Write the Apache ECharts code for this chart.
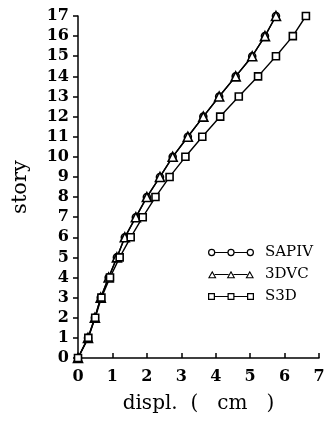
<!DOCTYPE html>
<html><head><meta charset="utf-8">
<script src="https://cdn.jsdelivr.net/npm/echarts@6/dist/echarts.min.js"></script>
<style>html,body{margin:0;padding:0;background:#fff}#c{width:331px;height:421px}</style>
</head><body><div id="c"></div>
<script>
const stories = [0,1,2,3,4,5,6,7,8,9,10,11,12,13,14,15,16,17];
const sapiv = [0,0.29,0.49,0.66,0.89,1.13,1.36,1.68,2.0,2.38,2.75,3.19,3.64,4.10,4.58,5.06,5.43,5.75];
const dvc3 = [0,0.29,0.49,0.66,0.89,1.13,1.36,1.68,2.0,2.38,2.75,3.19,3.64,4.10,4.58,5.06,5.43,5.75];
const s3d = [0,0.30,0.50,0.68,0.93,1.21,1.53,1.88,2.25,2.66,3.12,3.61,4.13,4.67,5.23,5.75,6.24,6.62];
const xTicks = ['0','1','2','3','4','5','6','7'];
const seriesNames = ['SAPIV','3DVC','S3D'];

const font = 'DejaVu Serif';
// legend sample icons: three hollow markers joined by a line (46 x 9 box)
const cxs = [4, 23, 42];
function ring(cx){
  const a=3.6,b=2.4;
  return `M${cx-a} 4.5 A${a} ${a} 0 1 1 ${cx+a} 4.5 A${a} ${a} 0 1 1 ${cx-a} 4.5 Z `+
         `M${cx-b} 4.5 A${b} ${b} 0 1 0 ${cx+b} 4.5 A${b} ${b} 0 1 0 ${cx-b} 4.5 Z `;
}
function tri(cx){
  return `M${cx-4.3} 8.4 L${cx} 0.6 L${cx+4.3} 8.4 Z M${cx-2.5} 7.2 L${cx+2.5} 7.2 L${cx} 3.1 Z `;
}
function sq(cx){
  return `M${cx-3.4} 1.1 L${cx+3.4} 1.1 L${cx+3.4} 7.9 L${cx-3.4} 7.9 Z M${cx-2.2} 2.3 L${cx-2.2} 6.7 L${cx+2.2} 6.7 L${cx+2.2} 2.3 Z `;
}
function icon(fn, half){
  let p='';
  cxs.forEach(c=>p+=fn(c));
  for(let i=0;i<2;i++){
    const x0=cxs[i]+half, x1=cxs[i+1]-half;
    p+=`M${x0} 4 L${x1} 4 L${x1} 5 L${x0} 5 Z `;
  }
  return 'path://'+p;
}
const icons = [icon(ring,3.6), icon(tri,2.5), icon(sq,3.4)];

function mk(name, xs, sym, size){
  return {name, type:'line', data: xs.map((x,i)=>[x, stories[i]]), symbol: sym, symbolSize:size,
    showAllSymbol:true,
    lineStyle:{color:'#000', width:1.4}, itemStyle:{color:'#fff', borderColor:'#000', borderWidth:1.6},
    emphasis:{disabled:true}, animation:false};
}
const chart = echarts.init(document.getElementById('c'));
chart.setOption({
  animation:false,
  grid:{left:78, right:12, top:16, bottom:63, containLabel:false, outerBoundsMode:'none'},
  xAxis:{type:'value', min:0, max:7, interval:1,
    name:'displ.  (   cm   )', nameLocation:'middle', nameGap:36,
    nameTextStyle:{fontFamily:font, fontSize:20, color:'#000'},
    axisLine:{show:true, lineStyle:{color:'#000', width:1.5}},
    axisTick:{show:true, inside:true, length:5, lineStyle:{color:'#000', width:1.5}},
    axisLabel:{fontFamily:font, fontWeight:'bold', fontSize:16, color:'#000', margin:11,
      formatter:(v)=>xTicks[Math.round(v)]},
    splitLine:{show:false}},
  yAxis:{type:'value', min:0, max:17, interval:1,
    name:'story', nameLocation:'middle', nameGap:47, nameRotate:90,
    nameTextStyle:{fontFamily:font, fontSize:21, color:'#000'},
    axisLine:{show:true, lineStyle:{color:'#000', width:1.5}},
    axisTick:{show:true, length:5, lineStyle:{color:'#000', width:1.5}},
    axisLabel:{fontFamily:font, fontWeight:'bold', fontSize:16, color:'#000', margin:9},
    splitLine:{show:false}},
  legend:{orient:'vertical', left:203, top:240, itemGap:7, itemWidth:46, itemHeight:9,
    itemStyle:{color:'#000', borderWidth:0},
    data:seriesNames.map((n,i)=>({name:n, icon:icons[i]})),
    textStyle:{fontFamily:font, fontSize:15, color:'#000', padding:[0,0,0,6]}},
  series:[
    mk(seriesNames[0], sapiv, 'circle', 7),
    mk(seriesNames[1], dvc3, 'triangle', 9),
    mk(seriesNames[2], s3d, 'rect', 7)
  ]
});
</script></body></html>
